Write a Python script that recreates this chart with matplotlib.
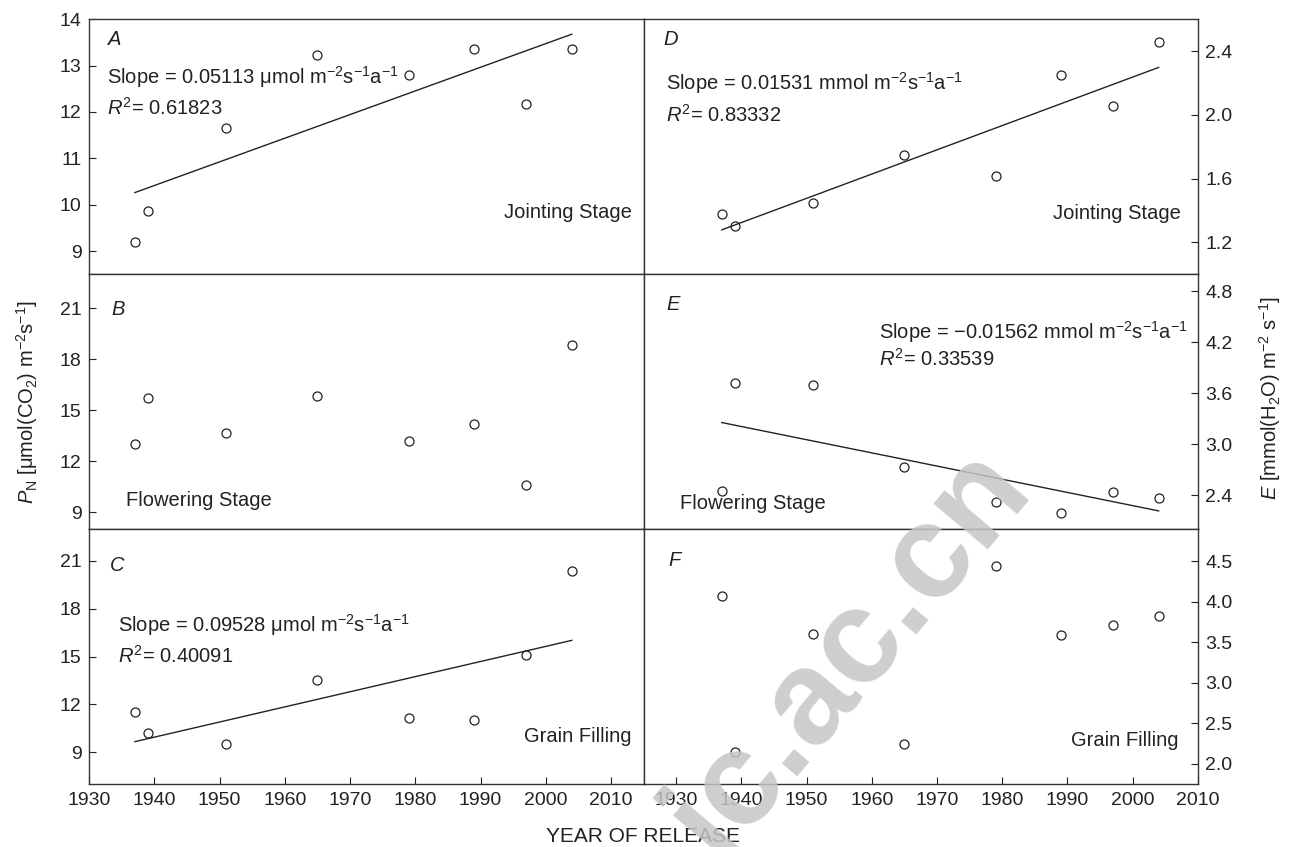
import numpy as np
import matplotlib
matplotlib.use('Agg')
import matplotlib.pyplot as plt

plt.rcParams['font.family'] = ['Liberation Sans', 'DejaVu Sans']
plt.rcParams['mathtext.fontset'] = 'custom'
plt.rcParams['mathtext.rm'] = 'Liberation Sans'
plt.rcParams['mathtext.it'] = 'Liberation Sans:italic'
plt.rcParams['mathtext.bf'] = 'Liberation Sans:bold'

# release years of the cultivars
years = [1937, 1939, 1951, 1965, 1979, 1989, 1997, 2004]

# net photosynthetic rate P_N
pn_jointing = [9.19, 9.86, 11.65, 13.24, 12.80, 13.35, 12.17, 13.35]
pn_flowering = [12.98, 15.74, 13.65, 15.84, 13.16, 14.20, 10.60, 18.83]
pn_grain = [11.52, 10.21, 9.54, 13.52, 11.12, 11.00, 15.10, 20.40]

# transpiration rate E
e_jointing = [1.38, 1.30, 1.45, 1.75, 1.615, 2.25, 2.055, 2.46]
e_flowering = [2.45, 3.72, 3.70, 2.73, 2.32, 2.19, 2.44, 2.37]
e_grain = [4.07, 2.14, 3.60, 2.24, 4.45, 3.59, 3.71, 3.82]

stages = ['Jointing Stage', 'Flowering Stage', 'Grain Filling']
letters_left = ['A', 'B', 'C']
letters_right = ['D', 'E', 'F']

slope_text = {
    'A': ('0.05113 μmol', '0.61823'),
    'C': ('0.09528 μmol', '0.40091'),
    'D': ('0.01531 mmol', '0.83332'),
    'E': ('−0.01562 mmol', '0.33539'),
}

left_ylims = [(8.5, 14), (8, 23), (7, 23)]
left_yticks = [[9, 10, 11, 12, 13, 14], [9, 12, 15, 18, 21], [9, 12, 15, 18, 21]]
right_ylims = [(1.0, 2.6), (2.0, 5.0), (1.75, 4.9)]
right_yticks = [[1.2, 1.6, 2.0, 2.4], [2.4, 3.0, 3.6, 4.2, 4.8],
                [2.0, 2.5, 3.0, 3.5, 4.0, 4.5]]

xticks = [1930, 1940, 1950, 1960, 1970, 1980, 1990, 2000, 2010]

FS_TICK = 14
FS = 14.5
ink = '#222222'

fig, axes = plt.subplots(3, 2, figsize=(12.9, 8.47), dpi=100)
fig.subplots_adjust(left=0.0692, right=0.9285, top=0.9772, bottom=0.0744,
                    wspace=0, hspace=0)

left_data = [pn_jointing, pn_flowering, pn_grain]
right_data = [e_jointing, e_flowering, e_grain]

# text positions (axes fraction) per panel
letter_pos = {'A': (0.034, 0.919), 'B': (0.04, 0.863), 'C': (0.037, 0.856),
              'D': (0.036, 0.922), 'E': (0.041, 0.88), 'F': (0.044, 0.876)}
slope_pos = {'A': (0.032, 0.774, 0.652), 'C': (0.052, 0.624, 0.503),
             'D': (0.04, 0.75, 0.624), 'E': (0.425, 0.774, 0.668)}
stage_pos = {'A': (0.979, 0.244, 'right'), 'B': (0.067, 0.111, 'left'),
             'C': (0.978, 0.188, 'right'), 'D': (0.97, 0.237, 'right'),
             'E': (0.065, 0.10, 'left'), 'F': (0.966, 0.172, 'right')}


def draw_panel(ax, y, letter, stage, side):
    x = np.array(years)
    y = np.array(y)
    ax.plot(x, y, 'o', ms=6.5, mfc='none', mec=ink, mew=0.9, zorder=3)
    if letter in slope_text:
        k, b = np.polyfit(x, y, 1)
        xx = np.array([x.min(), x.max()])
        ax.plot(xx, k * xx + b, color=ink, lw=1.0)
        s, r2 = slope_text[letter]
        px, py1, py2 = slope_pos[letter]
        ax.text(px, py1, 'Slope = ' + s + r' m$^{-2}$s$^{-1}$a$^{-1}$',
                transform=ax.transAxes, fontsize=FS, va='center', color=ink)
        ax.text(px, py2, r'$R^2$= ' + r2,
                transform=ax.transAxes, fontsize=FS, va='center', color=ink)
    lx, ly = letter_pos[letter]
    ax.text(lx, ly, letter, style='italic', transform=ax.transAxes,
            fontsize=FS, va='center', color=ink)
    sx, sy, ha = stage_pos[letter]
    ax.text(sx, sy, stage, transform=ax.transAxes, fontsize=FS,
            va='center', ha=ha, color=ink)
    for sp in ax.spines.values():
        sp.set_linewidth(1.0)
        sp.set_color('#333333')
    ax.tick_params(direction='in', length=5, width=0.8, labelsize=FS_TICK,
                   colors=ink, pad=5.5)
    if side == 'right':
        ax.yaxis.tick_right()
        ax.yaxis.set_label_position('right')


for i in range(3):
    axl = axes[i, 0]
    axr = axes[i, 1]
    draw_panel(axl, left_data[i], letters_left[i], stages[i], 'left')
    draw_panel(axr, right_data[i], letters_right[i], stages[i], 'right')
    axl.set_xlim(1930, 2015)
    axr.set_xlim(1925, 2010)
    axl.set_ylim(*left_ylims[i])
    axl.set_yticks(left_yticks[i])
    axr.set_ylim(*right_ylims[i])
    axr.set_yticks(right_yticks[i])
    axr.set_yticklabels(['%.1f' % v for v in right_yticks[i]])
    for ax in (axl, axr):
        ax.set_xticks(xticks)
        if i < 2:
            ax.tick_params(axis='x', length=0, labelbottom=False)

fig.text(0.021, 0.5257, r'$P_{\rm N}$ [μmol(CO$_2$) m$^{-2}$s$^{-1}$]',
         rotation=90, ha='center', va='center', fontsize=FS, color=ink)
fig.text(0.9845, 0.530, r'$E$ [mmol(H$_2$O) m$^{-2}$ s$^{-1}$]',
         rotation=90, ha='center', va='center', fontsize=FS, color=ink)
fig.text(0.4985, 0.012, 'YEAR OF RELEASE', ha='center', va='center',
         fontsize=15, color=ink)

# watermark
fig.text(0.658, 0.232, 'ic.ac.cn', rotation=50, fontsize=96,
         fontweight='bold', color='#c6c6c6', alpha=0.85,
         ha='center', va='center', zorder=10)

fig.savefig('out.png', dpi=100)
